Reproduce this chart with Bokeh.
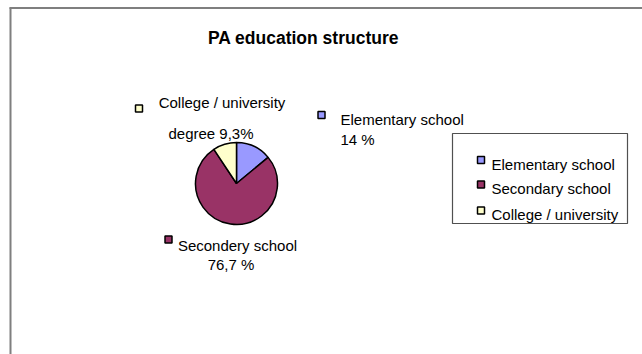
import math
from bokeh.plotting import figure
from bokeh.models import Range1d, ColumnDataSource
from bokeh.core.properties import value
from bokeh.embed import file_html
from bokeh.resources import INLINE

# ---- data ----
categories = ["Elementary school", "Secondary school", "College / university"]
shares = [14.0, 76.7, 9.3]
label_line1 = ["Elementary school", "Secondery school", "College / university"]
label_line2 = ["14 %", "76,7 %", "degree 9,3%"]
title_text = "PA education structure"

# ---- styles ----
colors = ["#9999FF", "#993366", "#FFFFCC"]
FONT = "Liberation Sans"
W, H = 642, 354

def Y(y):  # pixel-from-top to data y
    return H - y

p = figure(width=W, height=H, output_backend="svg", toolbar_location=None,
           x_range=Range1d(0, W), y_range=Range1d(0, H), min_border=0)
p.axis.visible = False
p.grid.visible = False
p.outline_line_color = None
p.background_fill_color = "white"
p.border_fill_color = "white"

# chart area border (top black, left grey)
p.segment(x0=[9], y0=[Y(7.5)], x1=[W + 5], y1=[Y(7.5)], line_color="black", line_width=1.2)
p.segment(x0=[10], y0=[Y(7)], x1=[10], y1=[-5], line_color="#7f7f7f", line_width=2)

# title
p.text(x=[303], y=[Y(37)], text=[title_text], text_font=value(FONT),
       text_font_size="17.5px", text_font_style="bold", text_align="center",
       text_baseline="alphabetic", text_color="black")

# pie: starts at 12 o'clock, clockwise
total = sum(shares)
cum = 0.0
starts, ends = [], []
for s in shares:
    a0 = cum / total
    cum += s
    a1 = cum / total
    starts.append(math.pi / 2 - 2 * math.pi * a1)
    ends.append(math.pi / 2 - 2 * math.pi * a0)
src = ColumnDataSource(dict(cat=categories, val=shares, start=starts, end=ends, color=colors))
cx, cy, r = 236, 183, 41
p.wedge(x=cx, y=Y(cy), radius=r, start_angle="start", end_angle="end",
        fill_color="color", line_color="black", line_width=1.5, source=src)

# data labels (marker + two lines of text)
lab_marker = [(321, 114.5), (168, 239), (138.5, 108)]
lab_l1 = [(340, 119, "left"), (237, 245, "center"), (221.5, 102, "center")]
lab_l2 = [(340, 139, "left"), (230.5, 264, "center"), (210.5, 133, "center")]
for i in range(3):
    mx, my = lab_marker[i]
    p.rect(x=[mx], y=[Y(my)], width=7, height=7, fill_color=colors[i],
           line_color="black", line_width=1.5)
    x1, y1, al1 = lab_l1[i]
    p.text(x=[x1], y=[Y(y1)], text=[label_line1[i]], text_font=value(FONT),
           text_font_size="15px", text_align=al1, text_baseline="alphabetic", text_color="black")
    x2, y2, al2 = lab_l2[i]
    p.text(x=[x2], y=[Y(y2)], text=[label_line2[i]], text_font=value(FONT),
           text_font_size="15px", text_align=al2, text_baseline="alphabetic", text_color="black")

# legend box
p.quad(left=[452], right=[627], top=[Y(133)], bottom=[Y(223)], fill_color="white",
       line_color="#505050", line_width=1.2)
leg_rows = [159.5, 184, 210]
for i, cat in enumerate(categories):
    ry = leg_rows[i]
    p.rect(x=[480.5], y=[Y(ry)], width=7, height=7, fill_color=colors[i],
           line_color="black", line_width=1.5)
    p.text(x=[491], y=[Y(ry + 4)], text=[cat], text_font=value(FONT),
           text_font_size="15px", text_align="left", text_baseline="alphabetic", text_color="black")

open("out.html", "w").write(file_html(p, INLINE))
